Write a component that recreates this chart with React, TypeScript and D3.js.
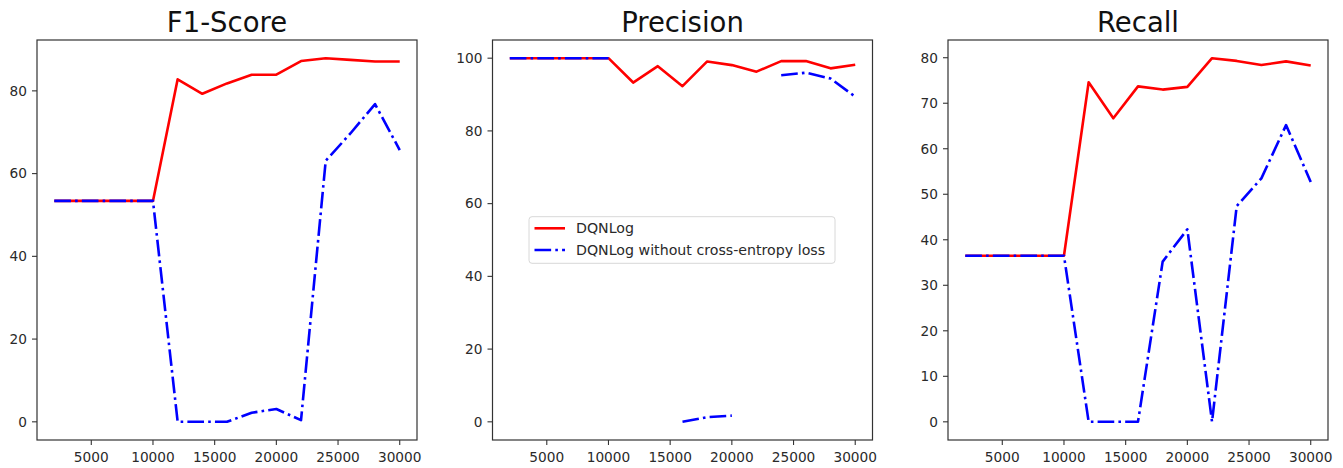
import React, { useEffect, useRef } from 'react';
import * as d3 from 'd3';

// training steps (x axis)
const steps = [2000, 4000, 6000, 8000, 10000, 12000, 14000, 16000, 18000, 20000, 22000, 24000, 26000, 28000, 30000];

// F1-Score
const f1Full = [53.4, 53.4, 53.4, 53.4, 53.4, 82.8, 79.3, 81.8, 83.9, 83.9, 87.2, 87.9, 87.5, 87.1, 87.1];
const f1NoCE = [53.4, 53.4, 53.4, 53.4, 53.4, 0, 0, 0, 2.2, 3.1, 0.4, 63.1, 69.7, 76.8, 65.7];

// Precision (null = undefined, no line drawn)
const precFull = [100, 100, 100, 100, 100, 93.3, 97.8, 92.3, 99.1, 98.1, 96.3, 99.2, 99.2, 97.2, 98.2];
const precNoCE = [100, 100, 100, 100, 100, null, null, 0, 1.3, 1.7, null, 95.3, 96.0, 94.4, 89.4];

// Recall
const recFull = [36.5, 36.5, 36.5, 36.5, 36.5, 74.6, 66.7, 73.7, 73.0, 73.6, 79.9, 79.3, 78.4, 79.2, 78.3];
const recNoCE = [36.5, 36.5, 36.5, 36.5, 36.5, 0, 0, 0, 35.2, 42.3, 0, 47.4, 53.5, 65.2, 52.7];

const xTicks = [5000, 10000, 15000, 20000, 25000, 30000];
const seriesNames = ['DQNLog', 'DQNLog without cross-entropy loss'];

type Panel = {
  title: string;
  full: (number | null)[];
  noCE: (number | null)[];
  yTicks: number[];
};

const panels: Panel[] = [
  { title: 'F1-Score', full: f1Full, noCE: f1NoCE, yTicks: [0, 20, 40, 60, 80] },
  { title: 'Precision', full: precFull, noCE: precNoCE, yTicks: [0, 20, 40, 60, 80, 100] },
  { title: 'Recall', full: recFull, noCE: recNoCE, yTicks: [0, 10, 20, 30, 40, 50, 60, 70, 80] },
];

const W = 1343;
const H = 468;
const FONT = '"DejaVu Sans", sans-serif';
const RED = '#ff0000';
const BLUE = '#0000ff';
const LW = 2.6;
const DASHDOT = [6.4, 1.6, 1, 1.6].map(v => v * LW).join(' ');

// matplotlib-like auto limits: 5% margin
const padDomain = (vals: number[]): [number, number] => {
  const lo = d3.min(vals) as number;
  const hi = d3.max(vals) as number;
  const m = (hi - lo) * 0.05;
  return [lo - m, hi + m];
};

const App = () => {
  const svgRef = useRef<SVGSVGElement>(null);

  useEffect(() => {
    const svg = d3.select(svgRef.current);
    svg.selectAll('*').remove();

    const lefts = [37, 492.5, 948];
    const top = 40;
    const pw = 380;
    const ph = 400;

    panels.forEach((p, pi) => {
      const g = svg.append('g').attr('transform', `translate(${lefts[pi]},${top})`);

      const x = d3.scaleLinear().domain(padDomain(steps)).range([0, pw]);
      const allY = [...p.full, ...p.noCE].filter(v => v != null) as number[];
      const y = d3.scaleLinear().domain(padDomain(allY)).range([ph, 0]);

      // title
      g.append('text')
        .attr('x', pw / 2)
        .attr('y', -8.5)
        .attr('text-anchor', 'middle')
        .style('font-family', FONT)
        .style('font-size', '27.5px')
        .style('fill', '#111')
        .text(p.title);

      // x ticks
      xTicks.forEach(t => {
        g.append('line')
          .attr('x1', x(t)).attr('x2', x(t))
          .attr('y1', ph).attr('y2', ph + 5)
          .style('stroke', '#333').style('stroke-width', 1.1);
        g.append('text')
          .attr('x', x(t)).attr('y', ph + 22)
          .attr('text-anchor', 'middle')
          .style('font-family', FONT)
          .style('font-size', '13.7px')
          .style('fill', '#2a2a2a')
          .text(String(t));
      });

      // y ticks
      p.yTicks.forEach(t => {
        g.append('line')
          .attr('x1', -5).attr('x2', 0)
          .attr('y1', y(t)).attr('y2', y(t))
          .style('stroke', '#333').style('stroke-width', 1.1);
        g.append('text')
          .attr('x', -10).attr('y', y(t))
          .attr('dy', '0.35em')
          .attr('text-anchor', 'end')
          .style('font-family', FONT)
          .style('font-size', '13.7px')
          .style('fill', '#2a2a2a')
          .text(String(t));
      });

      const line = d3.line<number | null>()
        .defined(d => d != null)
        .x((_, i) => x(steps[i]))
        .y(d => y(d as number));

      g.append('path')
        .datum(p.full)
        .attr('d', line)
        .style('fill', 'none')
        .style('stroke', RED)
        .style('stroke-width', LW)
        .style('stroke-linejoin', 'round');

      g.append('path')
        .datum(p.noCE)
        .attr('d', line)
        .style('fill', 'none')
        .style('stroke', BLUE)
        .style('stroke-width', LW)
        .style('stroke-dasharray', DASHDOT)
        .style('stroke-linejoin', 'round');

      // frame
      g.append('rect')
        .attr('width', pw).attr('height', ph)
        .style('fill', 'none')
        .style('stroke', '#333')
        .style('stroke-width', 1.2);

      // legend in the middle panel
      if (pi === 1) {
        const lx = 529 - lefts[pi];
        const ly = 216.7 - top;
        const lg = g.append('g').attr('transform', `translate(${lx},${ly})`);
        lg.append('rect')
          .attr('width', 306).attr('height', 46.6)
          .attr('rx', 3)
          .style('fill', 'rgba(255,255,255,0.8)')
          .style('stroke', '#d8d8d8')
          .style('stroke-width', 1);
        const rows = [
          { name: seriesNames[0], color: RED, dash: null },
          { name: seriesNames[1], color: BLUE, dash: DASHDOT },
        ];
        rows.forEach((r, i) => {
          const cy = 11.6 + i * 21.7;
          lg.append('line')
            .attr('x1', 5.5).attr('x2', 36)
            .attr('y1', cy).attr('y2', cy)
            .style('stroke', r.color)
            .style('stroke-width', LW)
            .style('stroke-dasharray', r.dash);
          lg.append('text')
            .attr('x', 47).attr('y', cy)
            .attr('dy', '0.35em')
            .style('font-family', FONT)
            .style('font-size', '14.2px')
            .style('fill', '#2a2a2a')
            .text(r.name);
        });
      }
    });
  }, []);

  return (
    <svg
      ref={svgRef}
      width={W}
      height={H}
      style={{ position: 'absolute', left: 0, top: 0, background: '#fff' }}
    />
  );
};

export default App;
